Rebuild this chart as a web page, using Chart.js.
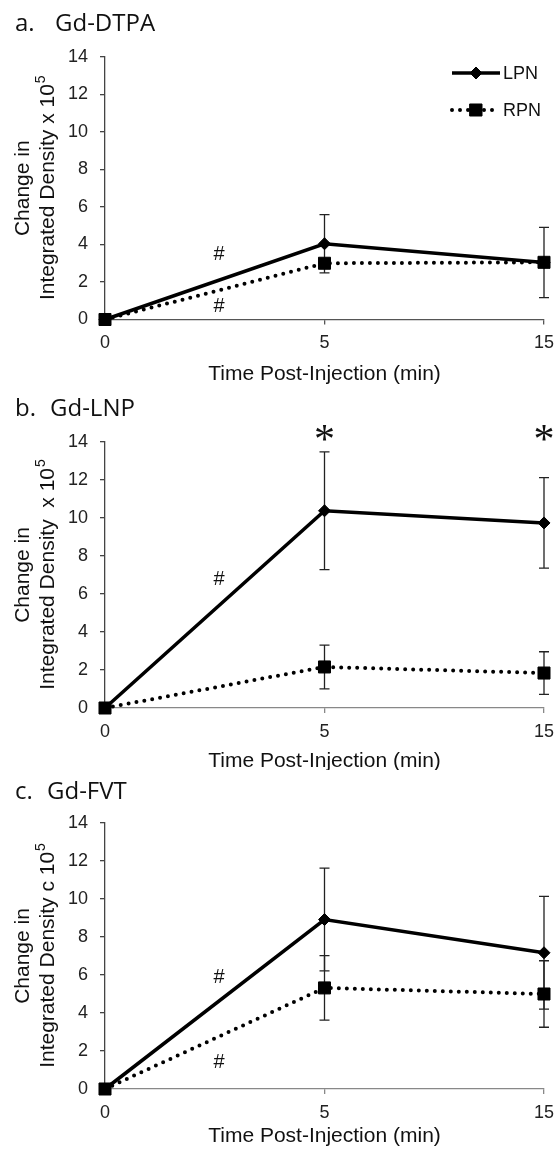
<!DOCTYPE html>
<html>
<head>
<meta charset="utf-8">
<script src="https://cdn.jsdelivr.net/npm/chart.js@4.4.1/dist/chart.umd.min.js"></script>
<style>
  html, body { margin: 0; padding: 0; background: #fff; }
  #wrap { position: relative; width: 556px; height: 1153px; }
  canvas { position: absolute; left: 0; }
</style>
</head>
<body>
<div id="wrap">
  <canvas id="chartA" width="556" height="385" style="top:0px"></canvas>
  <canvas id="chartB" width="556" height="385" style="top:385px"></canvas>
  <canvas id="chartC" width="556" height="383" style="top:770px"></canvas>
</div>
<script>
// x categories (min post-injection) and y tick values
const times = ['0', '5', '15'];
const yTicks = [0, 2, 4, 6, 8, 10, 12, 14];

// a. Gd-DTPA
const dtpaLPN = [0, 4.04, 3.04];
const dtpaLPNErr = [0, 1.55, 1.87];
const dtpaRPN = [0, 3.0, 3.05];
const dtpaRPNErr = [0, 0, 0];

// b. Gd-LNP
const lnpLPN = [0, 10.38, 9.74];
const lnpLPNErr = [0, 3.1, 2.38];
const lnpRPN = [0, 2.16, 1.84];
const lnpRPNErr = [0, 1.15, 1.12];

// c. Gd-FVT
const fvtLPN = [0, 8.92, 7.17];
const fvtLPNErr = [0, 2.7, 2.97];
const fvtRPN = [0, 5.32, 5.0];
const fvtRPNErr = [0, 1.7, 1.75];

// significance marks: [category position, value]
const dtpaHash = [[0.52, 3.55], [0.52, 0.77]];
const lnpHash = [[0.52, 6.84]];
const lnpStar = [[1, 14.5], [2, 14.5]];
const fvtHash = [[0.52, 5.93], [0.52, 1.45]];

const SANS = '"Liberation Sans", Arial, sans-serif';

// error bars under the lines, then titles / marks / legend on top
const deco = {
  id: 'deco',
  beforeDatasetsDraw(chart) {
    const ctx = chart.ctx, xs = chart.scales.x, ys = chart.scales.y;
    ctx.save();
    ctx.strokeStyle = '#222';
    ctx.lineWidth = 1.3;
    chart.data.datasets.forEach(ds => {
      (ds.errors || []).forEach((e, i) => {
        if (!e) return;
        const px = xs.getPixelForValue(i);
        const hi = ys.getPixelForValue(ds.data[i] + e);
        const lo = ys.getPixelForValue(ds.data[i] - e);
        ctx.beginPath();
        ctx.moveTo(px, hi); ctx.lineTo(px, lo);
        ctx.moveTo(px - 5, hi); ctx.lineTo(px + 5, hi);
        ctx.moveTo(px - 5, lo); ctx.lineTo(px + 5, lo);
        ctx.stroke();
      });
    });
    ctx.restore();
  },
  afterDraw(chart, args, o) {
    const ctx = chart.ctx, xs = chart.scales.x, ys = chart.scales.y, ca = chart.chartArea;
    ctx.save();
    ctx.fillStyle = '#111';

    // panel title
    ctx.font = '24px "Open Sans", sans-serif';
    ctx.textBaseline = 'alphabetic';
    ctx.textAlign = 'left';
    ctx.fillText(o.letter, 15, o.titleY);
    ctx.fillText(o.name, o.nameX, o.titleY);

    // x title
    ctx.font = '21px ' + SANS;
    ctx.textAlign = 'center';
    ctx.textBaseline = 'middle';
    ctx.fillText('Time Post-Injection (min)', (ca.left + ca.right) / 2, o.xTitleY);

    // y title, two rotated lines, second with superscript
    const cy = (ca.top + ca.bottom) / 2;
    ctx.save();
    ctx.translate(23, cy);
    ctx.rotate(-Math.PI / 2);
    ctx.fillText('Change in', 0, 0);
    ctx.restore();
    ctx.save();
    ctx.translate(48, cy);
    ctx.rotate(-Math.PI / 2);
    ctx.font = '21px ' + SANS;
    const main = o.yLine2;
    const wm = ctx.measureText(main).width;
    ctx.font = '14px ' + SANS;
    const wsup = ctx.measureText('5').width;
    const start = -(wm + wsup) / 2;
    ctx.textAlign = 'left';
    ctx.font = '21px ' + SANS;
    ctx.fillText(main, start, 0);
    ctx.font = '14px ' + SANS;
    ctx.fillText('5', start + wm + 1, -7);
    ctx.restore();

    // # and * marks
    ctx.textAlign = 'center';
    ctx.textBaseline = 'alphabetic';
    ctx.font = '20px ' + SANS;
    (o.hash || []).forEach(([c, v]) => ctx.fillText('#', xs.getPixelForValue(c), ys.getPixelForValue(v) + 7));
    ctx.font = '42px "Liberation Serif", serif';
    (o.star || []).forEach(([c, v]) => ctx.fillText('*', xs.getPixelForValue(c), ys.getPixelForValue(v) + 20));

    // legend
    if (o.legend) {
      chart.data.datasets.forEach((ds, k) => {
        const ly = o.legend[k];
        ctx.save();
        ctx.strokeStyle = ds.borderColor;
        ctx.lineWidth = ds.borderWidth;
        ctx.lineCap = ds.borderCapStyle || 'butt';
        ctx.setLineDash(ds.borderDash || []);
        ctx.beginPath();
        ctx.moveTo(452, ly); ctx.lineTo(500, ly);
        ctx.stroke();
        ctx.setLineDash([]);
        ctx.fillStyle = '#000';
        ctx.strokeStyle = '#000';
        ctx.lineWidth = 1;
        Chart.helpers.drawPoint(ctx, { pointStyle: ds.pointStyle, radius: ds.pointRadius, borderWidth: 1, rotation: 0 }, 476, ly);
        ctx.restore();
        ctx.font = '18px ' + SANS;
        ctx.textAlign = 'left';
        ctx.textBaseline = 'middle';
        ctx.fillStyle = '#111';
        ctx.fillText(ds.label, 503, ly + 1);
      });
    }
    ctx.restore();
  }
};

function lpn(data, errors) {
  return { label: 'LPN', data, errors, order: 1,
    borderColor: '#000', borderWidth: 3.5, tension: 0,
    pointStyle: 'rectRot', pointRadius: 6, pointBorderWidth: 1,
    pointBackgroundColor: '#000', pointBorderColor: '#000', clip: false };
}
function rpn(data, errors) {
  return { label: 'RPN', data, errors, order: 0,
    borderColor: '#000', borderWidth: 4, borderDash: [0, 8], borderCapStyle: 'round', tension: 0,
    pointStyle: 'rect', pointRadius: 8.5, pointBorderWidth: 1,
    pointBackgroundColor: '#000', pointBorderColor: '#000', clip: false };
}

function makePanel(id, datasets, pad, deco_opts, xAxisColor) {
  const tickFont = { family: SANS, size: 18 };
  return new Chart(document.getElementById(id), {
    type: 'line',
    data: { labels: times, datasets },
    options: {
      responsive: false, animation: false, devicePixelRatio: 1,
      layout: { padding: { top: pad.top, bottom: pad.bottom, left: 0, right: 12 } },
      plugins: { legend: { display: false }, tooltip: { enabled: false }, deco: deco_opts },
      scales: {
        x: {
          type: 'category', offset: false,
          ticks: { font: tickFont, color: '#222', padding: 8, maxRotation: 0, autoSkip: false },
          grid: { drawOnChartArea: false, tickLength: 5, color: xAxisColor, lineWidth: 1.3 },
          border: { color: xAxisColor, width: 1.3 },
          afterFit(s) { s.height = 50; s.paddingLeft = 0; s.paddingRight = 0; }
        },
        y: {
          min: yTicks[0], max: yTicks[yTicks.length - 1],
          afterBuildTicks(s) { s.ticks = yTicks.map(v => ({ value: v })); },
          ticks: { font: tickFont, color: '#222', padding: 12 },
          grid: { drawOnChartArea: false, tickLength: 5, color: '#444', lineWidth: 1.3 },
          border: { color: '#444', width: 1.3 },
          afterFit(s) { s.width = 105; s.paddingTop = 0; s.paddingBottom = 0; }
        }
      }
    },
    plugins: [deco]
  });
}

makePanel('chartA', [lpn(dtpaLPN, dtpaLPNErr), rpn(dtpaRPN, dtpaRPNErr)],
  { top: 57, bottom: 15.5 },
  { letter: 'a.', name: 'Gd-DTPA', nameX: 55, titleY: 31, xTitleY: 374,
    yLine2: 'Integrated Density x 10', hash: dtpaHash, legend: [73, 110] }, '#555');

makePanel('chartB', [lpn(lnpLPN, lnpLPNErr), rpn(lnpRPN, lnpRPNErr)],
  { top: 57, bottom: 12 },
  { letter: 'b.', name: 'Gd-LNP', nameX: 50, titleY: 31, xTitleY: 376,
    yLine2: 'Integrated Density  x 10', hash: lnpHash, star: lnpStar }, '#888');

makePanel('chartC', [lpn(fvtLPN, fvtLPNErr), rpn(fvtRPN, fvtRPNErr)],
  { top: 53, bottom: 14 },
  { letter: 'c.', name: 'Gd-FVT', nameX: 47, titleY: 29, xTitleY: 366,
    yLine2: 'Integrated Density c 10', hash: fvtHash }, '#888');
</script>
</body>
</html>
